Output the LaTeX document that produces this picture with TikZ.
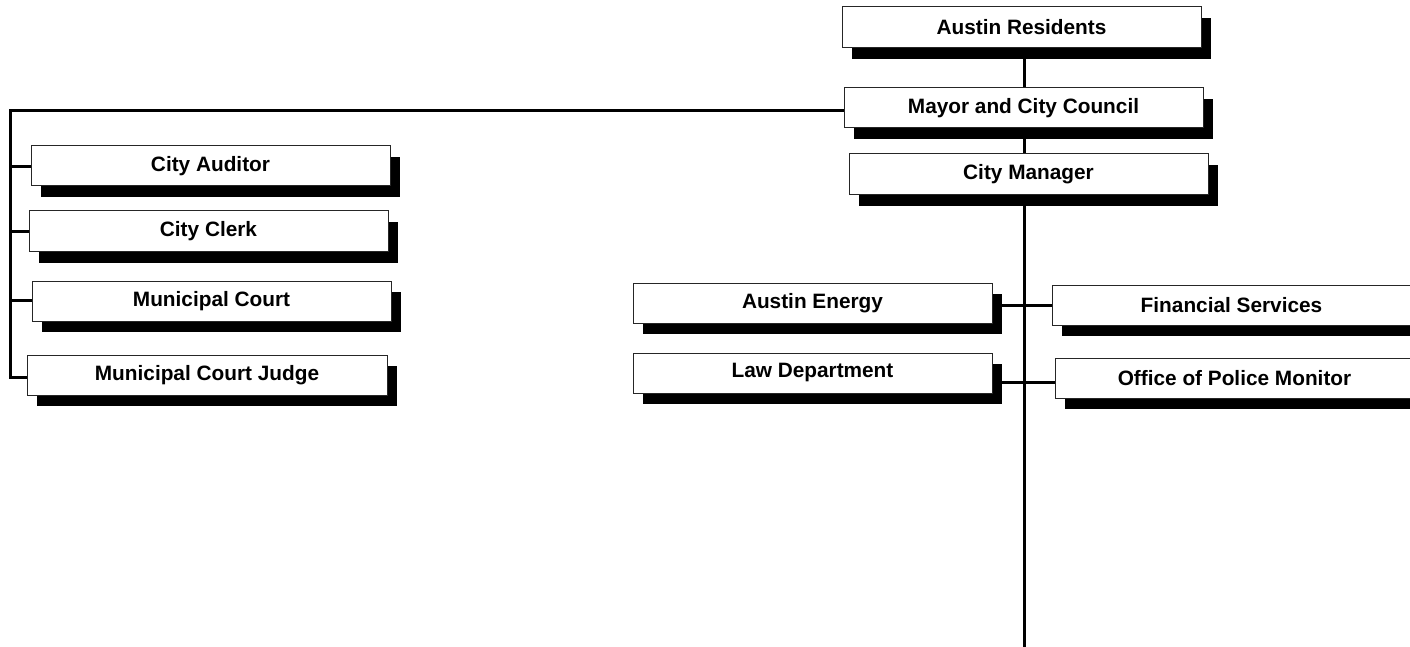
\documentclass[tikz,border=0pt]{standalone}
\usepackage{fontspec}
\setmainfont{Liberation Sans}
\usetikzlibrary{shadows,backgrounds}
\begin{document}
\begin{tikzpicture}[x=0.5pt,y=-0.5pt,
  orgbox/.style={draw=black!85, line width=0.5pt, fill=white, rectangle,
    minimum width=179.5pt, minimum height=20pt, inner sep=0pt,
    font=\fontsize{10.4}{12}\selectfont\bfseries,
    drop shadow={shadow xshift=5pt, shadow yshift=-5.3pt, fill=black, opacity=1}},
  conn/.style={line width=1.5pt, black}]
\useasboundingbox (0,0) rectangle (1410,647);
\clip (0,0) rectangle (1410,647);
\coordinate (bot) at (1024,647);
\coordinate (lx) at (10,111);
\path (1021.5,27.5) node[orgbox, minimum height=20.5pt] (res) {Austin Residents};
\path (1023.5,108) node[orgbox] (mayor) {Mayor and City Council};
\path (1028.5,174.5) node[orgbox, minimum height=20.5pt] (mgr) {City Manager};
\path (210.5,166) node[orgbox] (aud) {City Auditor};
\path (208.5,231.5) node[orgbox, minimum height=20.5pt] (clerk) {City Clerk};
\path (211.5,301) node[orgbox] (court) {Municipal Court};
\path (207,375) node[orgbox, minimum width=180pt] (judge) {Municipal Court Judge};
\path (812.5,303) node[orgbox] (energy) {Austin Energy};
\path (812.5,373) node[orgbox] (law) {Law Department};
\path (1231.5,305) node[orgbox] (fin) {Financial Services};
\path (1234.5,378) node[orgbox] (police) {Office of Police Monitor};
\begin{scope}[on background layer]
  \draw[conn] (res.south -| bot) -- (mayor.north -| bot);
  \draw[conn] (mayor.south -| bot) -- (mgr.north -| bot);
  \draw[conn] (mgr.south -| bot) -- (bot);
  \draw[conn] (mayor.west |- lx) -- (lx) -- (lx |- 0,377) -- (judge.west |- 0,377);
  \draw[conn] (lx |- 0,167) -- (aud.west |- 0,167);
  \draw[conn] (lx |- 0,232) -- (clerk.west |- 0,232);
  \draw[conn] (lx |- 0,300) -- (court.west |- 0,300);
  \draw[conn] (energy.east |- 0,305) -- (fin.west |- 0,305);
  \draw[conn] (law.east |- 0,382) -- (police.west |- 0,382);
\end{scope}
\end{tikzpicture}
\end{document}
